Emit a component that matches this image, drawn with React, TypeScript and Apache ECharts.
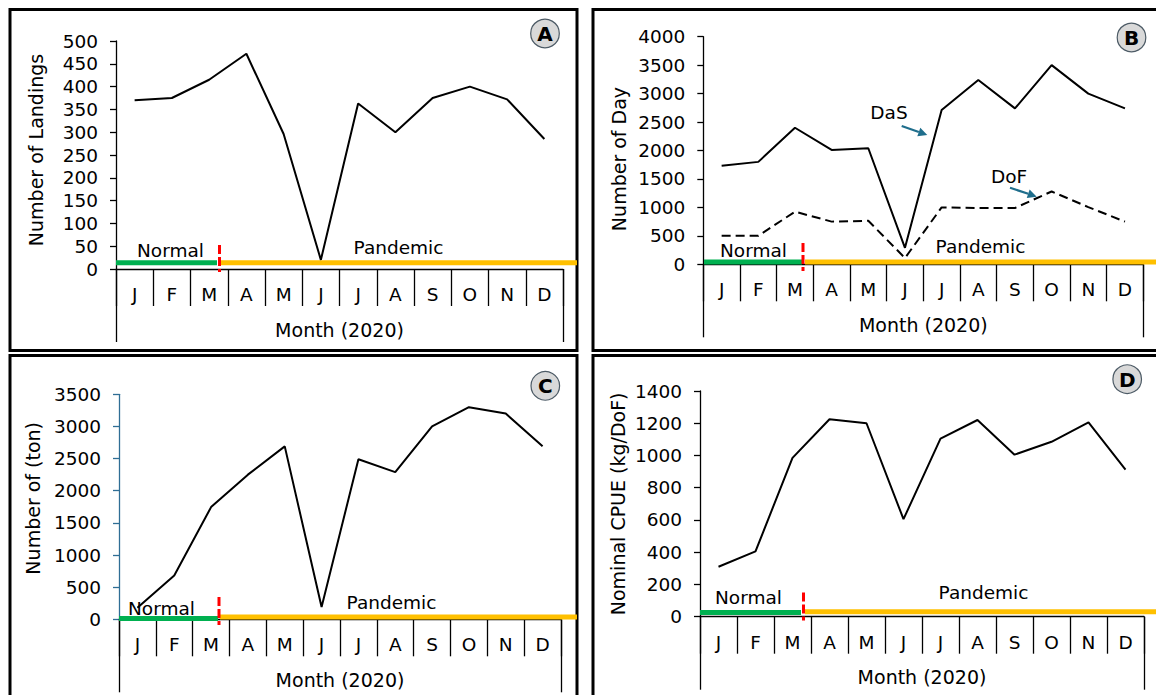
import React, { useEffect, useRef } from "react";
import * as echarts from "echarts";

const months = ["J", "F", "M", "A", "M", "J", "J", "A", "S", "O", "N", "D"];
const landings = [370, 375, 415, 472, 296, 20, 363, 300, 375, 400, 372, 285];
const dasDays = [1730, 1800, 2400, 2010, 2040, 290, 2710, 3240, 2740, 3500, 3000, 2740];
const dofDays = [500, 500, 925, 750, 765, 110, 1000, 990, 990, 1280, 1005, 750];
const catchTon = [180, 680, 1745, 2250, 2690, 190, 2490, 2290, 3000, 3300, 3200, 2690];
const cpue = [310, 405, 985, 1225, 1200, 605, 1105, 1220, 1005, 1085, 1205, 912];

const yNames = ["Number of Landings", "Number of Day", "Number of (ton)", "Nominal CPUE (kg/DoF)"];
const yMax = [500, 4000, 3500, 1400];
const yStep = [50, 500, 500, 200];
const panelLetters = ["A", "B", "C", "D"];
const xTitle = "Month (2020)";
const phaseLabels = ["Normal", "Pandemic"];

const FONT = 'Verdana, "DejaVu Sans", sans-serif';
const FS = 18.5;

// layout of the four panels (pixels)
const grids = [
  { left: 116, top: 41, width: 447, height: 228, nameGap: 71, namePad: [0, 0, 0, 10], axisColor: "#000" },
  { left: 703.3, top: 36.7, width: 440, height: 227.6, nameGap: 75, namePad: [0, 17, 0, 0], axisColor: "#000" },
  { left: 119, top: 394.3, width: 442, height: 225, nameGap: 77, namePad: [0, 0, 0, 17], axisColor: "#2f6e95" },
  { left: 700, top: 391, width: 444, height: 225.7, nameGap: 73, namePad: [0, 0, 0, 0], axisColor: "#000" },
];

export default function App() {
  const ref = useRef<HTMLDivElement>(null);
  useEffect(() => {
    if (!ref.current) return;
    const chart = echarts.init(ref.current, undefined, { renderer: "svg" });

    const xAxis: any[] = [];
    const yAxis: any[] = [];
    grids.forEach((g, i) => {
      xAxis.push({
        type: "category",
        gridIndex: i,
        data: months,
        boundaryGap: true,
        position: "bottom",
        axisLine: { show: true, lineStyle: { color: "#000", width: 1.3 } },
        axisTick: { show: true, length: 37, interval: 0, lineStyle: { color: "#000", width: 1.3 } },
        axisLabel: { interval: 0, margin: 16, color: "#000", fontSize: FS, fontFamily: FONT },
        splitLine: { show: false },
      });
      xAxis.push({
        type: "value",
        gridIndex: i,
        min: 0,
        max: 12,
        interval: 12,
        position: "bottom",
        axisLine: { show: false },
        axisTick: { show: true, length: 73, lineStyle: { color: "#000", width: 1.3 } },
        axisLabel: { show: false },
        splitLine: { show: false },
        name: xTitle,
        nameLocation: "middle",
        nameGap: 51,
        nameMoveOverlap: false,
        nameTextStyle: { color: "#000", fontSize: 19, fontFamily: FONT },
      });
      yAxis.push({
        type: "value",
        gridIndex: i,
        min: 0,
        max: yMax[i],
        interval: yStep[i],
        axisLine: { show: true, lineStyle: { color: g.axisColor, width: 1.3 } },
        axisTick: { show: true, length: 6, lineStyle: { color: g.axisColor, width: 1.3 } },
        axisLabel: {
          margin: 18,
          color: "#000",
          fontSize: FS,
          fontFamily: FONT,
          formatter: (v: number) => String(v),
        },
        splitLine: { show: false },
        name: yNames[i],
        nameLocation: "middle",
        nameGap: g.nameGap,
        nameMoveOverlap: false,
        nameTextStyle: { color: "#000", fontSize: 19, fontFamily: FONT, padding: g.namePad },
      });
    });

    const lineSeries = (name: string, data: number[], panel: number, dashed = false) => ({
      type: "line",
      name,
      xAxisIndex: panel * 2,
      yAxisIndex: panel,
      data,
      symbol: "none",
      lineStyle: { color: "#000", width: 2, type: dashed ? [9, 5] : "solid" },
      z: 3,
    });

    const hline = (x1: number, x2: number, y: number, color: string) => ({
      type: "line",
      shape: { x1, y1: y, x2, y2: y },
      style: { stroke: color, lineWidth: 5 },
      z: 1,
    });
    const redDash = (x: number, y1: number, y2: number) => ({
      type: "line",
      shape: { x1: x, y1, x2: x, y2 },
      style: { stroke: "#ff0000", lineWidth: 3, lineDash: [9, 3] },
      z: 5,
    });
    const txt = (text: string, x: number, y: number, extra: any = {}) => ({
      type: "text",
      x,
      y,
      style: {
        text,
        fill: "#000",
        fontSize: FS,
        fontFamily: FONT,
        align: "center",
        verticalAlign: "middle",
        ...extra,
      },
      z: 10,
    });
    const frame = (x: number, y: number, w: number, h: number) => ({
      type: "rect",
      shape: { x, y, width: w, height: h },
      style: { fill: "none", stroke: "#000", lineWidth: 3 },
      z: 0,
    });
    const badge = (letter: string, cx: number, cy: number) => [
      {
        type: "circle",
        shape: { cx, cy, r: 14.3 },
        style: { fill: "#d9d9d9", stroke: "#4d5b66", lineWidth: 1.2 },
        z: 9,
      },
      txt(letter, cx, cy + 0.5, { fontWeight: "bold", fontSize: 20 }),
    ];
    const arrow = (x1: number, y1: number, x2: number, y2: number) => {
      const dx = x2 - x1;
      const dy = y2 - y1;
      const len = Math.sqrt(dx * dx + dy * dy);
      const ux = dx / len;
      const uy = dy / len;
      const hl = 9;
      const hw = 4.5;
      const bx = x2 - ux * hl;
      const by = y2 - uy * hl;
      return [
        {
          type: "line",
          shape: { x1, y1, x2: bx, y2: by },
          style: { stroke: "#1f6e8c", lineWidth: 2.2 },
          z: 10,
        },
        {
          type: "polygon",
          shape: {
            points: [
              [x2, y2],
              [bx - uy * hw, by + ux * hw],
              [bx + uy * hw, by - ux * hw],
            ],
          },
          style: { fill: "#1f6e8c" },
          z: 10,
        },
      ];
    };

    const graphic: any[] = [
      frame(10, 9.5, 567, 341),
      frame(593, 9.5, 700, 341),
      frame(10, 355.5, 567, 400),
      frame(593, 355.5, 700, 400),
      // panel A phases
      hline(116, 217, 262.7, "#00b050"),
      hline(220, 577, 262.7, "#ffc000"),
      redDash(219.5, 245, 272),
      txt(phaseLabels[0], 170.5, 250),
      txt(phaseLabels[1], 398.5, 247),
      // panel B phases
      hline(704, 802, 262, "#00b050"),
      hline(805, 1156, 262, "#ffc000"),
      redDash(803, 243, 271),
      txt(phaseLabels[0], 753.5, 250),
      txt(phaseLabels[1], 980.5, 246.5),
      // panel C phases
      hline(119, 218, 618.5, "#00b050"),
      hline(220, 577, 617, "#ffc000"),
      redDash(219, 597, 625),
      txt(phaseLabels[0], 161.5, 608),
      txt(phaseLabels[1], 391.5, 602),
      // panel D phases
      hline(700, 801, 612.5, "#00b050"),
      hline(805, 1156, 611.7, "#ffc000"),
      redDash(803.5, 592.5, 620.5),
      txt(phaseLabels[0], 748.5, 597.5),
      txt(phaseLabels[1], 983.5, 592),
      // badges
      ...badge(panelLetters[0], 545, 33.5),
      ...badge(panelLetters[1], 1131.5, 37.5),
      ...badge(panelLetters[2], 545.3, 385.8),
      ...badge(panelLetters[3], 1127.2, 379.2),
      // B annotations
      txt("DaS", 889, 112),
      ...arrow(901.7, 126, 927.3, 135),
      txt("DoF", 1009, 176),
      ...arrow(1010, 187.7, 1036.7, 196.7),
    ];

    chart.setOption({
      animation: false,
      backgroundColor: "#fff",
      textStyle: { fontFamily: FONT },
      grid: grids.map((g) => ({
        left: g.left,
        top: g.top,
        width: g.width,
        height: g.height,
        containLabel: false,
        outerBoundsMode: "none",
      })),
      xAxis,
      yAxis,
      series: [
        lineSeries("Landings", landings, 0),
        lineSeries("DaS", dasDays, 1),
        lineSeries("DoF", dofDays, 1, true),
        lineSeries("Catch", catchTon, 2),
        lineSeries("CPUE", cpue, 3),
      ],
      graphic,
    });

    return () => chart.dispose();
  }, []);

  return (
    <div
      ref={ref}
      style={{ position: "fixed", left: 0, top: 0, width: 1156, height: 695, background: "#fff" }}
    />
  );
}
